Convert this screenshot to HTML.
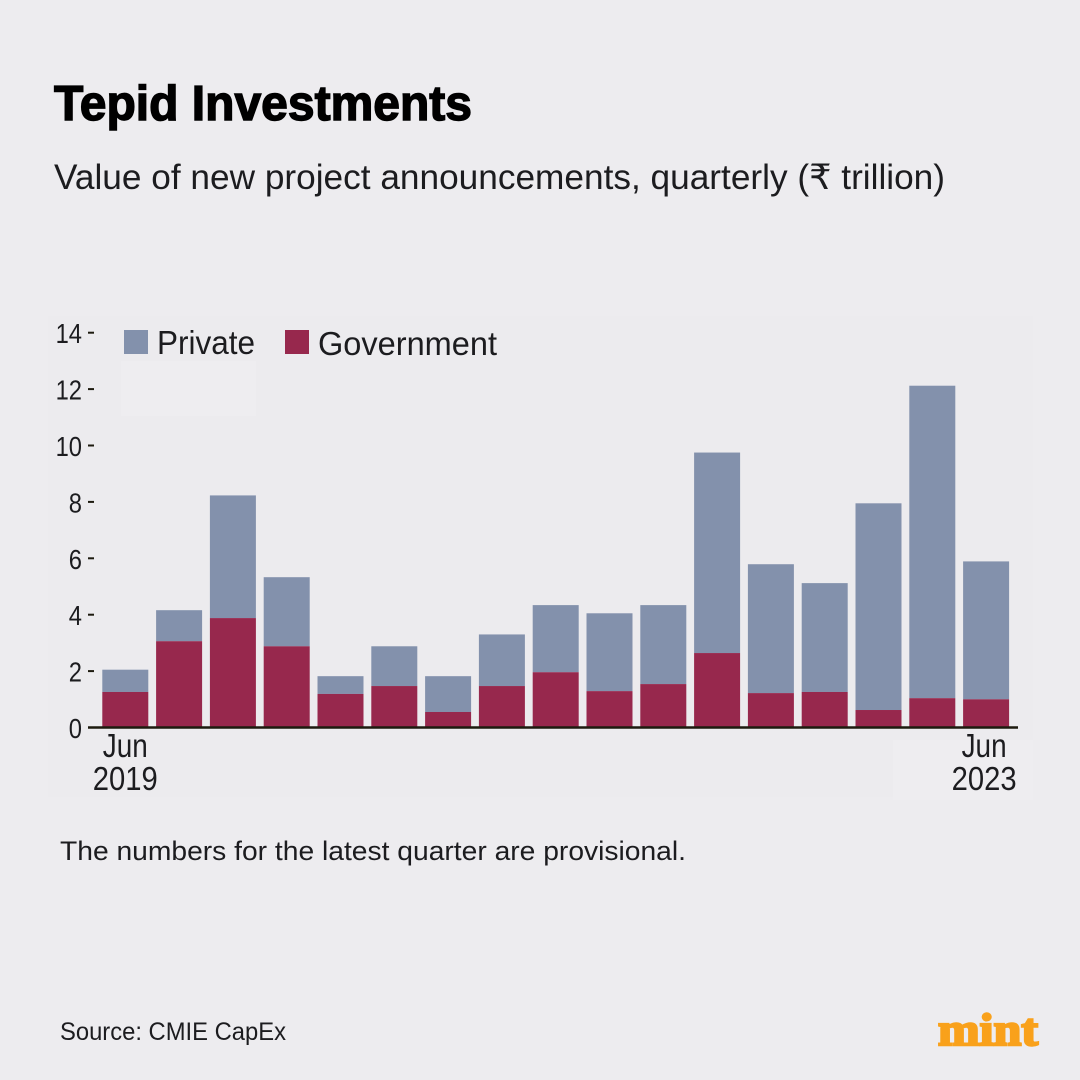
<!DOCTYPE html>
<html lang="en">
<head>
<meta charset="utf-8">
<title>Tepid Investments</title>
<style>
  html, body { margin: 0; padding: 0; background: #edecef; }
  svg { display: block; }
  text { font-family: "Liberation Sans", "DejaVu Sans", sans-serif; fill: #1c1c1f; }
</style>
</head>
<body>
<svg id="chart" xmlns="http://www.w3.org/2000/svg" width="1080" height="1080" viewBox="0 0 1080 1080">
  <rect x="0" y="0" width="1080" height="1080" fill="#edecef"/>
  <rect x="48" y="316" width="985" height="481" fill="#ecebee"/>
  <rect x="121" y="361" width="135" height="55" fill="#eeedf0"/>
  <rect x="893" y="740" width="140" height="60" fill="#eeedf0"/>

  <text x="54" y="120" font-size="49" font-weight="700" stroke="#000" stroke-width="1.4" style="fill:#000" textLength="418" lengthAdjust="spacingAndGlyphs">Tepid Investments</text>
  <text x="54" y="189" font-size="35" textLength="891" lengthAdjust="spacingAndGlyphs">Value of new project announcements, quarterly (₹ trillion)</text>

  <g id="y-axis"></g>
  <g id="bars"></g>
  <line x1="88" x2="1018" y1="727.5" y2="727.5" stroke="#1d1a0e" stroke-width="2.4"/>
  <g id="x-axis"></g>

  <g>
    <g>
      <rect x="124" y="330" width="24" height="24" fill="#8391ac"/>
      <text x="157" y="354" font-size="33" textLength="98" lengthAdjust="spacingAndGlyphs">Private</text>
    </g>
    <g>
      <rect x="285" y="330" width="24" height="24" fill="#97284d"/>
      <text x="318" y="355" font-size="33" textLength="179" lengthAdjust="spacingAndGlyphs">Government</text>
    </g>
  </g>

  <text x="60" y="860" font-size="27" textLength="626" lengthAdjust="spacingAndGlyphs">The numbers for the latest quarter are provisional.</text>
  <text x="60" y="1040" font-size="25" textLength="226" lengthAdjust="spacingAndGlyphs">Source: CMIE CapEx</text>
  <text x="938" y="1045" font-size="46" stroke="#f9a11b" stroke-width="2.4" style="fill:#f9a11b;font-family:'Liberation Serif',serif;font-weight:700" textLength="100" lengthAdjust="spacingAndGlyphs">mint</text>
</svg>
<script>
const categories = ["Jun 2019","Sep 2019","Dec 2019","Mar 2020","Jun 2020","Sep 2020","Dec 2020","Mar 2021","Jun 2021","Sep 2021","Dec 2021","Mar 2022","Jun 2022","Sep 2022","Dec 2022","Mar 2023","Jun 2023"];
const government = [1.26,3.06,3.88,2.88,1.19,1.47,0.55,1.47,1.96,1.29,1.54,2.64,1.22,1.26,0.62,1.04,1.00];
const privateSector = [0.79,1.10,4.35,2.45,0.63,1.41,1.27,1.83,2.38,2.76,2.80,7.11,4.57,3.86,7.33,11.08,4.89];
const yTicks = [0,2,4,6,8,10,12,14];
const xLabels = {"Jun 2019":["Jun","2019"],"Jun 2023":["Jun","2023"]};

const NS = "http://www.w3.org/2000/svg";
const yScale = v => 727.5 - v * 28.2;
const xScale = i => 102.3 + i * 53.8;
const barWidth = 46;

const barsGroup = document.getElementById("bars");
const yGroup = document.getElementById("y-axis");
const xGroup = document.getElementById("x-axis");

yTicks.forEach(t => {
  const label = document.createElementNS(NS, "text");
  
  
  label.setAttribute("x", 82);
  label.setAttribute("y", yScale(t) + 10.5);
  label.setAttribute("text-anchor", "end");
  label.setAttribute("font-size", "28");
  label.setAttribute("textLength", String(t).length * 13.2);
  label.setAttribute("lengthAdjust", "spacingAndGlyphs");
  label.textContent = t;
  yGroup.appendChild(label);
  if (t !== 0) {
    const tick = document.createElementNS(NS, "line");
    
    
    tick.setAttribute("x1", 88);
    tick.setAttribute("x2", 94);
    tick.setAttribute("y1", yScale(t));
    tick.setAttribute("y2", yScale(t));
    tick.setAttribute("stroke", "#1d1a0e");
    tick.setAttribute("stroke-width", "2");
    yGroup.appendChild(tick);
  }
});

categories.forEach((c, i) => {
  const gov = government[i];
  const pri = privateSector[i];
  const priRect = document.createElementNS(NS, "rect");
  
  
  priRect.setAttribute("x", xScale(i));
  priRect.setAttribute("y", yScale(gov + pri));
  priRect.setAttribute("width", barWidth);
  priRect.setAttribute("height", yScale(gov) - yScale(gov + pri));
  priRect.setAttribute("fill", "#8391ac");
  barsGroup.appendChild(priRect);
  const govRect = document.createElementNS(NS, "rect");
  
  
  govRect.setAttribute("x", xScale(i));
  govRect.setAttribute("y", yScale(gov));
  govRect.setAttribute("width", barWidth);
  govRect.setAttribute("height", yScale(0) - yScale(gov));
  govRect.setAttribute("fill", "#97284d");
  barsGroup.appendChild(govRect);
  const parts = xLabels[c];
  if (parts) {
    parts.forEach((p, k) => {
      const t = document.createElementNS(NS, "text");
      
      
      t.setAttribute("x", xScale(i) + barWidth / 2 - (i === 0 ? 0 : 2));
      t.setAttribute("y", k === 0 ? 757 : 790);
      t.setAttribute("text-anchor", "middle");
      t.setAttribute("font-size", "33");
      t.setAttribute("textLength", k === 0 ? 45 : 65);
      t.setAttribute("lengthAdjust", "spacingAndGlyphs");
      t.textContent = p;
      xGroup.appendChild(t);
    });
  }
});
</script>
</body>
</html>
